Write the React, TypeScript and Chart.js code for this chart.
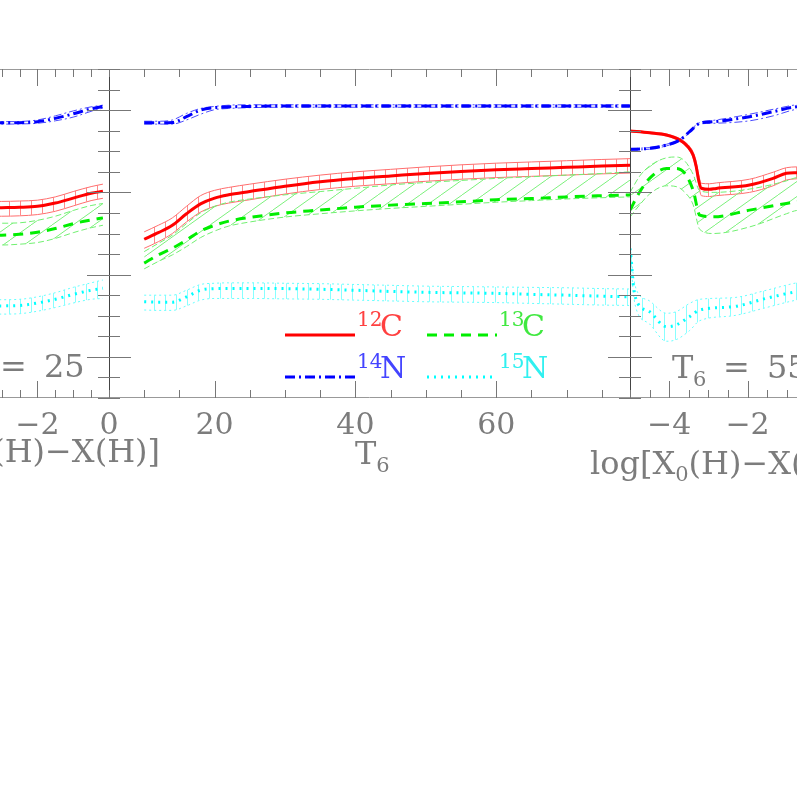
import React, { useEffect, useRef } from "react";
import { Chart, registerables } from "chart.js";
Chart.register(...registerables);

const FONT = "'DejaVu Serif', 'Liberation Serif', serif";
const AXIS_GRAY = "#777";
const TEXT_GRAY = "#7c7c7c";

// ---- shared y axis (log abundance) ----
const Y_MIN = -6.5;
const Y_MAX = -2.5;
const Y_STEP = 0.25;

// ---- left panel: T6 = 25, x = log[X0(H)-X(H)] ----
const leftX = [-6, -5, -4, -3.5, -3, -2.5, -2, -1.5, -1, -0.5, -0.17];
const left12C = [-4.19, -4.19, -4.19, -4.19, -4.186, -4.182, -4.17, -4.13, -4.07, -4.01, -3.987];
const left12CUp = [-4.11, -4.11, -4.11, -4.11, -4.11, -4.105, -4.095, -4.055, -3.99, -3.93, -3.9];
const left12CLo = [-4.29, -4.29, -4.29, -4.29, -4.29, -4.285, -4.27, -4.23, -4.165, -4.1, -4.072];
const left13C = [-4.52, -4.52, -4.52, -4.52, -4.52, -4.51, -4.485, -4.44, -4.38, -4.335, -4.31];
const left13CUp = [-4.375, -4.375, -4.375, -4.375, -4.375, -4.37, -4.34, -4.29, -4.22, -4.16, -4.135];
const left13CLo = [-4.64, -4.64, -4.64, -4.64, -4.64, -4.63, -4.61, -4.56, -4.49, -4.43, -4.4];
const left14N = [-3.155, -3.155, -3.155, -3.155, -3.155, -3.153, -3.14, -3.1, -3.045, -2.985, -2.955];
const left14NUp = [-3.14, -3.14, -3.14, -3.14, -3.14, -3.138, -3.12, -3.07, -3.01, -2.96, -2.94];
const left14NLo = [-3.17, -3.17, -3.17, -3.17, -3.17, -3.168, -3.16, -3.13, -3.085, -3.015, -2.975];
const left15N = [-5.38, -5.38, -5.38, -5.38, -5.38, -5.375, -5.345, -5.3, -5.24, -5.19, -5.165];
const left15NUp = [-5.305, -5.305, -5.305, -5.305, -5.305, -5.3, -5.27, -5.22, -5.155, -5.1, -5.065];
const left15NLo = [-5.48, -5.48, -5.48, -5.48, -5.48, -5.475, -5.445, -5.4, -5.345, -5.3, -5.29];

// ---- middle panel: x = T6 ----
const midT = [10, 12, 14, 16, 18, 20, 22, 25, 30, 35, 40, 45, 50, 55, 60, 65, 70, 75, 79];
const mid12C = [-4.57, -4.49, -4.4, -4.26, -4.14, -4.07, -4.03, -3.99, -3.925, -3.87, -3.83, -3.8, -3.77, -3.745, -3.725, -3.71, -3.695, -3.68, -3.67];
const mid12CUp = [-4.48, -4.4, -4.31, -4.17, -4.04, -3.975, -3.94, -3.9, -3.84, -3.79, -3.75, -3.72, -3.69, -3.665, -3.645, -3.63, -3.615, -3.6, -3.59];
const mid12CLo = [-4.68, -4.6, -4.5, -4.36, -4.24, -4.17, -4.13, -4.09, -4.02, -3.965, -3.925, -3.895, -3.865, -3.84, -3.82, -3.805, -3.79, -3.775, -3.765];
const mid13C = [-4.86, -4.76, -4.68, -4.58, -4.47, -4.4, -4.35, -4.305, -4.25, -4.215, -4.18, -4.155, -4.135, -4.115, -4.09, -4.075, -4.055, -4.04, -4.03];
const mid13CUp = [-4.72, -4.62, -4.52, -4.38, -4.25, -4.17, -4.12, -4.08, -4.03, -3.99, -3.95, -3.91, -3.88, -3.855, -3.83, -3.81, -3.79, -3.77, -3.75];
const mid13CLo = [-4.93, -4.84, -4.76, -4.66, -4.55, -4.47, -4.41, -4.36, -4.3, -4.26, -4.225, -4.195, -4.17, -4.145, -4.12, -4.1, -4.08, -4.065, -4.055];
const mid14N = [-3.153, -3.153, -3.15, -3.08, -3.0, -2.97, -2.96, -2.955, -2.95, -2.95, -2.95, -2.95, -2.95, -2.95, -2.95, -2.95, -2.95, -2.95, -2.95];
const mid14NUp = [-3.135, -3.135, -3.12, -3.04, -2.98, -2.955, -2.94, -2.935, -2.935, -2.935, -2.935, -2.935, -2.935, -2.935, -2.935, -2.935, -2.935, -2.935, -2.935];
const mid14NLo = [-3.17, -3.17, -3.17, -3.12, -3.05, -2.995, -2.98, -2.97, -2.965, -2.965, -2.965, -2.965, -2.965, -2.965, -2.965, -2.965, -2.965, -2.965, -2.965];
const mid15N = [-5.33, -5.335, -5.335, -5.27, -5.19, -5.17, -5.168, -5.168, -5.17, -5.178, -5.19, -5.205, -5.215, -5.222, -5.228, -5.24, -5.25, -5.262, -5.27];
const mid15NUp = [-5.25, -5.25, -5.25, -5.19, -5.12, -5.105, -5.1, -5.1, -5.105, -5.11, -5.12, -5.13, -5.14, -5.145, -5.15, -5.155, -5.16, -5.17, -5.175];
const mid15NLo = [-5.43, -5.435, -5.435, -5.38, -5.31, -5.29, -5.29, -5.29, -5.295, -5.3, -5.31, -5.32, -5.33, -5.335, -5.34, -5.35, -5.36, -5.37, -5.375];

// ---- right panel: T6 = 55, x = log[X0(H)-X(H)] ----
const right12CX = [-5, -4.5, -4.07, -3.73, -3.52, -3.39, -3.31, -3.25, -3.18, -2.97, -2.8, -1.95, -1.35, -1.01, -0.75, 0];
const right12C = [-3.254, -3.276, -3.303, -3.364, -3.445, -3.546, -3.688, -3.85, -3.95, -3.963, -3.952, -3.911, -3.83, -3.768, -3.76, -3.75];
const right12CUp = [-3.245, -3.265, -3.29, -3.345, -3.42, -3.51, -3.63, -3.78, -3.89, -3.895, -3.885, -3.84, -3.755, -3.7, -3.69, -3.68];
const right12CLo = [-3.262, -3.285, -3.315, -3.38, -3.47, -3.58, -3.73, -3.9, -4.04, -4.05, -4.04, -4.0, -3.92, -3.85, -3.835, -3.82];
const right13CX = [-5, -4.75, -4.5, -4.07, -3.82, -3.6, -3.39, -3.22, -2.88, -1.95, -1.01, -0.75, 0];
const right13C = [-4.216, -3.993, -3.83, -3.709, -3.709, -3.77, -3.973, -4.277, -4.297, -4.216, -4.135, -4.115, -4.09];
const right13CUp = [-4.0, -3.8, -3.68, -3.58, -3.57, -3.62, -3.78, -3.98, -4.0, -3.96, -3.86, -3.82, -3.8];
const right13CLo = [-4.3, -4.15, -4.02, -3.92, -3.93, -4.0, -4.15, -4.45, -4.5, -4.42, -4.26, -4.22, -4.2];
const right14NX = [-5, -4.5, -4.07, -3.73, -3.48, -3.22, -2.88, -1.95, -1.35, -0.75, 0];
const right14N = [-3.477, -3.465, -3.425, -3.364, -3.262, -3.16, -3.141, -3.08, -3.019, -2.958, -2.94];
const right14NUp = [-3.467, -3.455, -3.415, -3.354, -3.25, -3.15, -3.125, -3.05, -2.99, -2.935, -2.92];
const right14NLo = [-3.487, -3.475, -3.435, -3.374, -3.272, -3.17, -3.16, -3.13, -3.07, -2.99, -2.97];
const right15NX = [-5, -4.96, -4.92, -4.84, -4.5, -4.07, -3.82, -3.48, -3.22, -2.37, -1.52, -0.75, 0];
const right15N = [-4.68, -4.862, -5.105, -5.309, -5.451, -5.633, -5.612, -5.511, -5.43, -5.39, -5.288, -5.208, -5.17];
const right15NUp = [-4.66, -4.8, -4.99, -5.18, -5.32, -5.47, -5.45, -5.35, -5.3, -5.28, -5.19, -5.1, -5.05];
const right15NLo = [-4.7, -4.93, -5.2, -5.42, -5.6, -5.81, -5.79, -5.68, -5.56, -5.5, -5.4, -5.31, -5.27];

// ---- legend labels ----
const legendIsotopes = [
  { mass: "12", el: "C", key: "c12" },
  { mass: "13", el: "C", key: "c13" },
  { mass: "14", el: "N", key: "n14" },
  { mass: "15", el: "N", key: "n15" },
];

const STYLES: any = {
  c12: { line: "#ff0000", band: "#ff6e6e", fill: "v", fillColor: "#ff8a8a", dash: [], bandDash: [], text: "#ff4040" },
  c13: { line: "#00ee00", band: "#70f070", fill: "d", fillColor: "#7cf07c", dash: [10, 7], bandDash: [6, 3], text: "#40e840" },
  n14: { line: "#0000ff", band: "#4a4aff", fill: null, dash: [10, 4, 2, 4], bandDash: [8, 3, 2, 3], text: "#4444ff" },
  n15: { line: "#00ffff", band: "#66ffff", fill: "v", fillColor: "#88ffff", dash: [2, 5], bandDash: [2, 3], text: "#30f0f0" },
};

function vPattern(ctx: CanvasRenderingContext2D, color: string) {
  const c = document.createElement("canvas");
  c.width = 11;
  c.height = 4;
  const g = c.getContext("2d")!;
  g.fillStyle = color;
  g.fillRect(0, 0, 1, 4);
  return ctx.createPattern(c, "repeat");
}
function dPattern(ctx: CanvasRenderingContext2D, color: string) {
  const w = 21, h = 15;
  const c = document.createElement("canvas");
  c.width = w;
  c.height = h;
  const g = c.getContext("2d")!;
  g.strokeStyle = color;
  g.lineWidth = 1;
  g.beginPath();
  g.moveTo(-w, 2 * h);
  g.lineTo(2 * w, -h);
  g.stroke();
  return ctx.createPattern(c, "repeat");
}

function speciesSets(ctx: CanvasRenderingContext2D, key: string, xs: number[], line: number[], up: number[], lo: number[]) {
  const st = STYLES[key];
  const pts = (ys: number[]) => xs.map((x, i) => ({ x, y: ys[i] }));
  const bg = st.fill === "v" ? vPattern(ctx, st.fillColor) : st.fill === "d" ? dPattern(ctx, st.fillColor) : "transparent";
  const common = { pointRadius: 0, cubicInterpolationMode: "monotone" };
  return [
    { ...common, data: pts(line), borderColor: st.line, borderWidth: 3, borderDash: st.dash, fill: false, order: 0 },
    { ...common, data: pts(up), borderColor: st.band, borderWidth: 1, borderDash: st.bandDash, fill: st.fill ? "+1" : false, backgroundColor: bg, order: 1 },
    { ...common, data: pts(lo), borderColor: st.band, borderWidth: 1, borderDash: st.bandDash, fill: false, order: 1 },
  ];
}

type Part = { t: string; size: number; dy?: number; dx?: number; color?: string };
type TextItem = { x: number; y: number; align?: "left" | "right"; color: string; parts: Part[] };

function drawItem(ctx: CanvasRenderingContext2D, it: TextItem, off: number) {
  ctx.save();
  ctx.textBaseline = "alphabetic";
  ctx.textAlign = "left";
  const widths = it.parts.map((p) => {
    ctx.font = `${p.size}px ${FONT}`;
    return ctx.measureText(p.t).width;
  });
  const total = widths.reduce((a, b) => a + b, 0);
  let x = it.x - off;
  if (it.align === "right") x -= total;
  let cx = x;
  it.parts.forEach((p, i) => {
    ctx.font = `${p.size}px ${FONT}`;
    ctx.fillStyle = p.color || it.color;
    const px = p.dx !== undefined ? x + p.dx : cx;
    ctx.fillText(p.t, px, it.y + (p.dy || 0));
    cx = px + widths[i];
  });
  ctx.restore();
}

type PanelCfg = {
  left: number; width: number; padL: number; padR: number;
  xmin: number; xmax: number; xstep: number; xmajor: number;
  series: [string, number[], number[], number[], number[]][];
  texts: TextItem[];
  legend?: boolean;
};

const CHART_TOP = 69;
const CHART_BOTTOM = 398;
const H = 799;
const XAXIS_H = 60;

const panels: PanelCfg[] = [
  {
    left: -200, width: 400, padL: 94.2, padR: 91, xmin: -6, xmax: 0, xstep: 0.5, xmajor: 2,
    series: [
      ["n14", leftX, left14N, left14NUp, left14NLo],
      ["c13", leftX, left13C, left13CUp, left13CLo],
      ["c12", leftX, left12C, left12CUp, left12CLo],
      ["n15", leftX, left15N, left15NUp, left15NLo],
    ],
    texts: [
      { x: -51, y: 377, color: TEXT_GRAY, parts: [
        { t: "T", size: 32, dx: 0 }, { t: "6", size: 21, dx: 21, dy: 8 }, { t: "=", size: 32, dx: 51 }, { t: "25", size: 32, dx: 95 } ] },
      { x: 160, y: 462, align: "right", color: TEXT_GRAY, parts: [
        { t: "log[X", size: 32 }, { t: "0", size: 21, dy: 7 }, { t: "(H)\u2212X(H)]", size: 32 } ] },
    ],
  },
  {
    left: 0, width: 797, padL: 109, padR: 167, xmin: 5, xmax: 79, xstep: 5, xmajor: 20,
    series: [
      ["n14", midT, mid14N, mid14NUp, mid14NLo],
      ["c13", midT, mid13C, mid13CUp, mid13CLo],
      ["c12", midT, mid12C, mid12CUp, mid12CLo],
      ["n15", midT, mid15N, mid15NUp, mid15NLo],
    ],
    texts: [
      { x: 355, y: 464, color: TEXT_GRAY, parts: [{ t: "T", size: 32 }, { t: "6", size: 21, dy: 8 }] },
    ],
    legend: true,
  },
  {
    left: 400, width: 600, padL: 230, padR: 174, xmin: -5, xmax: 0, xstep: 0.5, xmajor: 2,
    series: [
      ["n14", right14NX, right14N, right14NUp, right14NLo],
      ["c13", right13CX, right13C, right13CUp, right13CLo],
      ["c12", right12CX, right12C, right12CUp, right12CLo],
      ["n15", right15NX, right15N, right15NUp, right15NLo],
    ],
    texts: [
      { x: 672, y: 378, color: TEXT_GRAY, parts: [
        { t: "T", size: 32, dx: 0 }, { t: "6", size: 21, dx: 21, dy: 8 }, { t: "=", size: 32, dx: 51 }, { t: "55", size: 32, dx: 95 } ] },
      { x: 590, y: 474, color: TEXT_GRAY, parts: [
        { t: "log[X", size: 32 }, { t: "0", size: 21, dy: 7 }, { t: "(H)\u2212X(H)]", size: 32 } ] },
    ],
  },
];

// legend layout (page coordinates, middle panel)
const LEGEND_ROWS = [335, 377];
const LEGEND_COLS = [285, 427];
const LEGEND_LINE_W = 70;

function isMultiple(v: number, m: number) {
  const r = v / m;
  return Math.abs(r - Math.round(r)) < 1e-6;
}

function tickValues(scale: any, step: number) {
  if (scale.ticks && scale.ticks.length) return scale.ticks.map((t: any) => t.value);
  const out: number[] = [];
  for (let v = Math.ceil(scale.min / step) * step; v <= scale.max + 1e-9; v += step) out.push(v);
  return out;
}

function Panel({ cfg }: { cfg: PanelCfg }) {
  const ref = useRef<HTMLCanvasElement>(null);
  useEffect(() => {
    const canvas = ref.current!;
    const ctx = canvas.getContext("2d")!;
    const datasets: any[] = [];
    cfg.series.forEach(([key, xs, l, u, lo]) => datasets.push(...speciesSets(ctx, key, xs, l, u, lo)));

    const framePlugin = {
      id: "frame" + cfg.left,
      afterDatasetsDraw(chart: any) {
        const c = chart.ctx as CanvasRenderingContext2D;
        const a = chart.chartArea;
        const xs = chart.scales.x;
        const ys = chart.scales.y;
        const L = Math.round(a.left) + 0.5;
        const R = Math.round(a.right) - 0.5;
        const T = Math.round(a.top) + 0.5;
        const B = Math.round(a.bottom) - 0.5;
        c.save();
        c.setLineDash([]);
        c.lineWidth = 1;
        c.strokeStyle = "#999";
        c.beginPath();
        c.moveTo(a.left, T); c.lineTo(a.right, T);
        c.moveTo(a.left, B); c.lineTo(a.right, B);
        c.stroke();
        c.strokeStyle = "#444";
        c.beginPath();
        c.moveTo(L, a.top); c.lineTo(L, a.bottom);
        c.moveTo(R + 1, a.top); c.lineTo(R + 1, a.bottom);
        c.stroke();
        c.strokeStyle = AXIS_GRAY;
        c.beginPath();
        tickValues(ys, Y_STEP).forEach((v: number) => {
          const py = Math.round(ys.getPixelForValue(v)) + 0.5;
          const len = isMultiple(v, 1) ? 22 : 11;
          c.moveTo(a.left, py); c.lineTo(a.left + len, py);
          c.moveTo(a.right, py); c.lineTo(a.right - len, py);
        });
        tickValues(xs, cfg.xstep).forEach((v: number) => {
          const px = Math.round(xs.getPixelForValue(v)) + 0.5;
          const len = isMultiple(v, cfg.xmajor) ? 17 : 8;
          c.moveTo(px, a.top); c.lineTo(px, a.top + len);
          c.moveTo(px, a.bottom); c.lineTo(px, a.bottom - len);
        });
        c.stroke();
        c.restore();
      },
      afterDraw(chart: any) {
        const c = chart.ctx as CanvasRenderingContext2D;
        cfg.texts.forEach((t) => drawItem(c, t, cfg.left));
        if (cfg.legend) {
          legendIsotopes.forEach((iso, i) => {
            const st = STYLES[iso.key];
            const row = LEGEND_ROWS[Math.floor(i / 2)];
            const col = LEGEND_COLS[i % 2];
            c.save();
            c.strokeStyle = st.line;
            c.lineWidth = 3;
            c.setLineDash(st.dash);
            c.beginPath();
            c.moveTo(col - cfg.left, row);
            c.lineTo(col + LEGEND_LINE_W - cfg.left, row);
            c.stroke();
            c.restore();
            drawItem(c, {
              x: col + LEGEND_LINE_W + 2, y: row + 1, color: st.text,
              parts: [{ t: iso.mass, size: 20, dy: -10 }, { t: iso.el, size: 30, dx: 23 }],
            }, cfg.left);
          });
        }
      },
    };

    const chart = new Chart(ctx, {
      type: "line",
      data: { datasets },
      options: {
        responsive: false,
        animation: false,
        devicePixelRatio: 1,
        events: [],
        layout: { padding: { left: cfg.padL, right: cfg.padR, top: CHART_TOP, bottom: H - CHART_BOTTOM - XAXIS_H } },
        plugins: { legend: { display: false }, tooltip: { enabled: false } },
        scales: {
          x: {
            type: "linear",
            min: cfg.xmin,
            max: cfg.xmax,
            position: "bottom",
            grid: { display: false, drawTicks: false },
            border: { display: false },
            ticks: {
              stepSize: cfg.xstep,
              includeBounds: false,
              autoSkip: false,
              maxRotation: 0,
              padding: 10,
              color: TEXT_GRAY,
              font: { family: FONT, size: 30 },
              callback: (v: any) => {
                const n = Number(v);
                if (!isMultiple(n, cfg.xmajor)) return "";
                const r = Math.round(n);
                return r < 0 ? "\u2212" + Math.abs(r) : String(r);
              },
            },
            afterFit: (s: any) => { s.height = XAXIS_H; },
          },
          y: {
            type: "linear",
            min: Y_MIN,
            max: Y_MAX,
            display: false,
            ticks: { stepSize: Y_STEP, includeBounds: false },
          },
        },
      } as any,
      plugins: [framePlugin as any],
    });
    return () => chart.destroy();
  }, []);
  return (
    <canvas
      ref={ref}
      width={cfg.width}
      height={H}
      style={{ position: "absolute", left: cfg.left, top: 0, width: cfg.width, height: H }}
    />
  );
}

export default function App() {
  return (
    <div style={{ position: "fixed", left: 0, top: 0, width: 797, height: 799, overflow: "hidden", background: "#fff" }}>
      {panels.map((p, i) => (
        <Panel key={i} cfg={p} />
      ))}
    </div>
  );
}
